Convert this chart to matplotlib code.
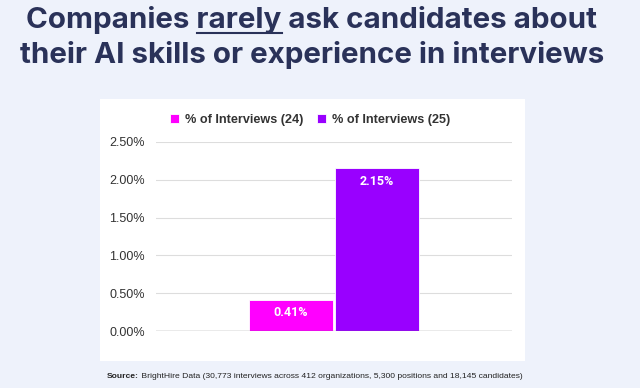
import matplotlib
matplotlib.use("Agg")
import matplotlib.pyplot as plt
from matplotlib.patches import Rectangle
import numpy as np

# data
series = ["% of Interviews (24)", "% of Interviews (25)"]
values = [0.41, 2.15]
colors = ["#FF00FF", "#9900FF"]
yticks = [0.0, 0.5, 1.0, 1.5, 2.0, 2.5]
title1 = ("Companies", "rarely", "ask candidates about")
title2 = "their AI skills or experience in interviews"
source_bold = "Source:"
source_rest = " BrightHire Data (30,773 interviews across 412 organizations, 5,300 positions and 18,145 candidates)"

W, H = 640, 388
bg = "#EEF2FB"
navy = "#2A3259"

fig = plt.figure(figsize=(W / 100, H / 100), dpi=100)
fig.patch.set_facecolor(bg)

# white chart panel
fig.patches.append(Rectangle((100 / W, 1 - 361 / H), 425 / W, 262 / H,
                             transform=fig.transFigure, facecolor="white",
                             edgecolor="none", zorder=-1))

ax = fig.add_axes([156 / W, 1 - 331 / H, 356 / W, 189 / H])
ax.set_facecolor("white")
ax.patch.set_alpha(0)

width = 0.237
offsets = [-0.121, 0.121]
for off, v, c, lab in zip(offsets, values, colors, series):
    b = ax.bar(off, v, width=width, color=c, edgecolor="white", linewidth=0.6,
               label=lab, zorder=3)
    ax.text(off, v - 0.17, f"{v:.2f}%", ha="center", va="center", color="white",
            fontsize=9, fontweight="bold", family="Roboto", zorder=4)

ax.set_xlim(-0.5, 0.5)
ax.set_ylim(0, 2.5)
ax.set_yticks(yticks)
ax.set_yticklabels([f"{t:.2f}%" for t in yticks], family="Liberation Sans",
                   fontsize=9, color="#333333")
ax.set_xticks([])
ax.tick_params(axis="y", length=0, pad=8)
for s in ax.spines.values():
    s.set_visible(False)
ax.yaxis.grid(True, color="#DDDDDD", linewidth=0.8, zorder=0)
ax.axhline(0, color="#666666", linewidth=0.9, zorder=5)

leg = ax.legend(loc="center", bbox_to_anchor=(310 / W, 1 - 120 / H),
                bbox_transform=fig.transFigure, ncol=2, frameon=False,
                handlelength=0.75, handleheight=0.75, handletextpad=0.45,
                columnspacing=1.05, prop={"family": "Liberation Sans", "size": 9.1,
                                          "weight": "bold"})
for t in leg.get_texts():
    t.set_color("#333333")

# title
tkw = dict(fontsize=21.3, fontweight="bold", family="Inter", color=navy, va="baseline")
line1 = " ".join(title1)
t1 = fig.text(312 / W, 1 - 28 / H, line1, ha="center", **tkw)
fig.text(312.5 / W, 1 - 63 / H, title2, ha="center", **tkw)

fig.canvas.draw()
r = fig.canvas.get_renderer()


def wpx(s, **kw):
    tt = fig.text(0, 0, s, **kw)
    w = tt.get_window_extent(r).width
    tt.remove()
    return w


bb = t1.get_window_extent(r)
w_pre = wpx(title1[0] + " " + title1[1], **tkw)
w_rarely = wpx(title1[1], **tkw)
x0 = bb.x0 + w_pre - w_rarely
x1 = bb.x0 + w_pre
yline = 1 - 32.5 / H
fig.add_artist(plt.Line2D([x0 / W, x1 / W], [yline, yline], transform=fig.transFigure,
                          color=navy, linewidth=1.5))

# source
skw = dict(fontsize=6.1, family="Liberation Sans", color="#222222", va="center")
sx = 107 / W
sy = 1 - 376 / H
sb = fig.text(sx, sy, source_bold, fontweight="bold", **skw)
fig.canvas.draw()
bw = sb.get_window_extent(r).width
fig.text(sx + bw / W, sy, source_rest, **skw)

fig.savefig("out.png", dpi=100, facecolor=bg)
